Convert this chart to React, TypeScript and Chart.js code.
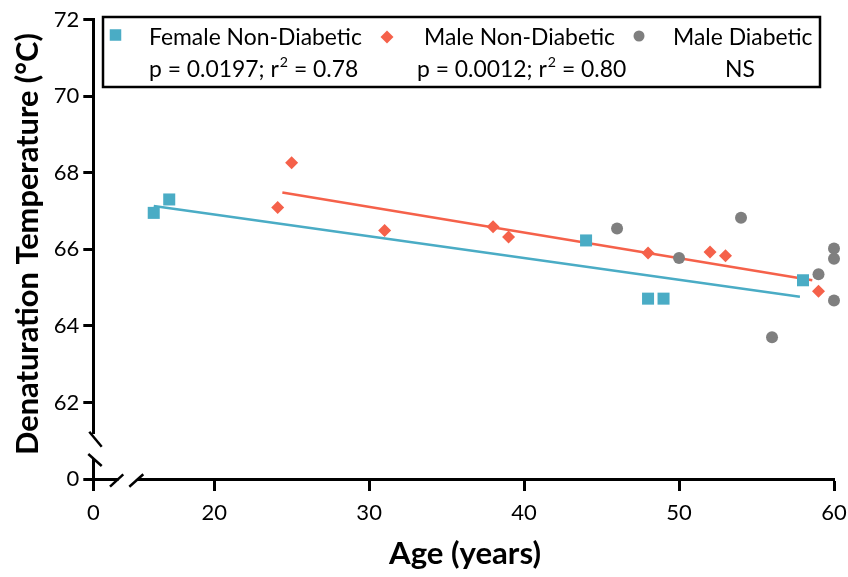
import React, { useEffect, useRef } from 'react';
import { Chart, registerables } from 'chart.js';

Chart.register(...registerables);

const FONT = 'Lato, "Open Sans", "DejaVu Sans", sans-serif';

// ---- data ----
const femaleAges = [16.1, 17.1, 44.0, 48.0, 49.0, 58.0];
const femaleTemps = [66.95, 67.3, 66.23, 64.71, 64.71, 65.19];
const maleAges = [24.1, 25.0, 31.0, 38.0, 39.0, 48.0, 52.0, 53.0, 59.0];
const maleTemps = [67.09, 68.26, 66.49, 66.59, 66.32, 65.9, 65.93, 65.83, 64.9];
const diabeticAges = [46, 50, 54, 56, 59, 60, 60, 60];
const diabeticTemps = [66.54, 65.77, 66.82, 63.7, 65.35, 66.02, 65.75, 64.66];

const femaleFitAges = [16.1, 57.8];
const femaleFitTemps = [67.13, 64.76];
const maleFitAges = [24.4, 58.6];
const maleFitTemps = [67.48, 65.19];

// broken axes: the first tick stands for "0"
const xTickValues = [12.2, 20, 30, 40, 50, 60];
const xTickLabels = ['0', '20', '30', '40', '50', '60'];
const yTickValues = [60, 62, 64, 66, 68, 70, 72];
const yTickLabels = ['0', '62', '64', '66', '68', '70', '72'];

const seriesNames = ['Female Non-Diabetic', 'Male Non-Diabetic', 'Male Diabetic'];
const pValues = ['0.0197', '0.0012'];
const r2Values = ['0.78', '0.80'];
const nsLabel = 'NS';

const xTitle = 'Age (years)';
const yTitle = 'Denaturation Temperature (°C)';

const BLUE = '#4AACC5';
const RED = '#F5614A';
const GREY = '#7F7F7F';

const pts = (xs: number[], ys: number[]) => xs.map((x, i) => ({ x, y: ys[i] }));

function fitSize(ctx: CanvasRenderingContext2D, text: string, weight: string, target: number) {
  ctx.font = `${weight} 100px ${FONT}`;
  const w = ctx.measureText(text).width;
  return (100 * target) / w;
}

const decorPlugin = {
  id: 'decor',
  afterDraw(chart: any) {
    const ctx: CanvasRenderingContext2D = chart.ctx;
    ctx.save();
    // ---- axis breaks ----
    ctx.fillStyle = '#fff';
    ctx.fillRect(89, 434, 9, 25); // y gap
    ctx.fillRect(118.5, 476, 18.5, 6.5); // x gap
    ctx.strokeStyle = '#000';
    ctx.lineWidth = 2.5;
    ctx.lineCap = 'butt';
    const seg = (a: number, b: number, c: number, d: number) => {
      ctx.beginPath();
      ctx.moveTo(a, b);
      ctx.lineTo(c, d);
      ctx.stroke();
    };
    seg(89.3, 431.7, 101.7, 446.7);
    seg(88.3, 454, 101.7, 466);
    seg(110, 486.7, 123.3, 474.3);
    seg(129.3, 486.7, 143.3, 474.3);

    // ---- axis titles ----
    ctx.fillStyle = '#000';
    const ySize = fitSize(ctx, yTitle, 'bold', 422);
    ctx.font = `bold ${ySize}px ${FONT}`;
    ctx.save();
    ctx.translate(28, 244);
    ctx.rotate(-Math.PI / 2);
    ctx.textAlign = 'center';
    ctx.textBaseline = 'middle';
    ctx.fillText(yTitle, 0, 0);
    ctx.restore();
    const xSize = fitSize(ctx, xTitle, 'bold', 152);
    ctx.font = `bold ${xSize}px ${FONT}`;
    ctx.textAlign = 'center';
    ctx.textBaseline = 'middle';
    ctx.fillText(xTitle, 465, 554);

    // ---- legend box ----
    ctx.fillStyle = '#fff';
    ctx.fillRect(103, 17, 717, 70);
    ctx.strokeStyle = '#000';
    ctx.lineWidth = 2.5;
    ctx.strokeRect(103, 17, 717, 70);

    const lSize = fitSize(ctx, seriesNames[0], 'normal', 213);
    ctx.font = `${lSize}px ${FONT}`;
    ctx.fillStyle = '#000';
    ctx.textAlign = 'left';
    ctx.textBaseline = 'alphabetic';
    const row1 = 45;
    const row2 = 77;
    const nameX = [149, 424, 673];
    seriesNames.forEach((n, i) => ctx.fillText(n, nameX[i], row1));

    // markers
    ctx.fillStyle = BLUE;
    ctx.fillRect(115.5 - 5.75, 35 - 5.75, 11.5, 11.5);
    ctx.fillStyle = RED;
    ctx.beginPath();
    ctx.moveTo(387, 37 - 6.5);
    ctx.lineTo(387 + 6.5, 37);
    ctx.lineTo(387, 37 + 6.5);
    ctx.lineTo(387 - 6.5, 37);
    ctx.closePath();
    ctx.fill();
    ctx.fillStyle = GREY;
    ctx.beginPath();
    ctx.arc(639, 36, 5.5, 0, Math.PI * 2);
    ctx.fill();

    // stats row
    ctx.fillStyle = '#000';
    const statX = [149, 417];
    pValues.forEach((p, i) => {
      let x = statX[i];
      ctx.font = `${lSize}px ${FONT}`;
      const a = `p = ${p}; r`;
      ctx.fillText(a, x, row2);
      x += ctx.measureText(a).width + 1;
      ctx.font = `${lSize * 0.62}px ${FONT}`;
      ctx.fillText('2', x, row2 - lSize * 0.45);
      x += ctx.measureText('2').width;
      ctx.font = `${lSize}px ${FONT}`;
      ctx.fillText(` = ${r2Values[i]}`, x, row2);
    });
    ctx.fillText(nsLabel, 725, row2);
    ctx.restore();
  },
};

export default function App() {
  const ref = useRef<HTMLCanvasElement>(null);
  useEffect(() => {
    if (!ref.current) return;
    const tickFont = { family: FONT, size: 22 };
    const chart = new Chart(ref.current, {
      type: 'scatter',
      data: {
        datasets: [
          {
            type: 'scatter',
            label: seriesNames[2],
            data: pts(diabeticAges, diabeticTemps),
            backgroundColor: GREY,
            borderColor: GREY,
            pointStyle: 'circle',
            pointRadius: 6,
            borderWidth: 0,
            clip: false,
            order: 0,
          },
          {
            type: 'scatter',
            label: seriesNames[1],
            data: pts(maleAges, maleTemps),
            backgroundColor: RED,
            borderColor: RED,
            pointStyle: 'rectRot',
            pointRadius: 6.5,
            borderWidth: 0,
            clip: false,
            order: 1,
          },
          {
            type: 'scatter',
            label: seriesNames[0],
            data: pts(femaleAges, femaleTemps),
            backgroundColor: BLUE,
            borderColor: BLUE,
            pointStyle: 'rect',
            pointRadius: 8.5,
            borderWidth: 0,
            clip: false,
            order: 2,
          },
          {
            type: 'line',
            label: 'male fit',
            data: pts(maleFitAges, maleFitTemps),
            borderColor: RED,
            borderWidth: 2.6,
            pointRadius: 0,
            fill: false,
            clip: false,
            order: 3,
          },
          {
            type: 'line',
            label: 'female fit',
            data: pts(femaleFitAges, femaleFitTemps),
            borderColor: BLUE,
            borderWidth: 2.6,
            pointRadius: 0,
            fill: false,
            clip: false,
            order: 4,
          },
        ],
      },
      options: {
        responsive: false,
        animation: false,
        events: [],
        layout: { padding: { left: 0, right: 14, top: 19.5, bottom: 0 } },
        plugins: { legend: { display: false }, tooltip: { enabled: false } },
        scales: {
          x: {
            type: 'linear',
            min: 12.2,
            max: 60,
            afterBuildTicks: (s: any) => {
              s.ticks = xTickValues.map((v) => ({ value: v }));
            },
            afterFit: (s: any) => {
              s.height = 98;
              s.paddingLeft = 0;
              s.paddingRight = 0;
            },
            ticks: {
              callback: (_v: any, i: number) => xTickLabels[i],
              font: tickFont,
              color: '#000',
              padding: 9,
              autoSkip: false,
              maxRotation: 0,
            },
            grid: {
              display: true,
              drawOnChartArea: false,
              drawTicks: true,
              tickLength: 12,
              tickWidth: 3,
              tickColor: '#000',
            },
            border: { display: true, width: 3, color: '#000' },
          },
          y: {
            type: 'linear',
            min: 60,
            max: 72,
            afterBuildTicks: (s: any) => {
              s.ticks = yTickValues.map((v) => ({ value: v }));
            },
            afterFit: (s: any) => {
              s.width = 93.3;
              s.paddingTop = 0;
              s.paddingBottom = 0;
            },
            ticks: {
              callback: (_v: any, i: number) => yTickLabels[i],
              font: tickFont,
              color: '#000',
              padding: 4,
              autoSkip: false,
            },
            grid: {
              display: true,
              drawOnChartArea: false,
              drawTicks: true,
              tickLength: 10,
              tickWidth: 3,
              tickColor: '#000',
            },
            border: { display: true, width: 3, color: '#000' },
          },
        },
      },
      plugins: [decorPlugin],
    } as any);
    return () => chart.destroy();
  }, []);
  return (
    <div style={{ position: 'absolute', left: 0, top: 0, width: 848, height: 577, background: '#fff' }}>
      <canvas ref={ref} width={848} height={577} style={{ width: 848, height: 577, display: 'block' }} />
    </div>
  );
}
